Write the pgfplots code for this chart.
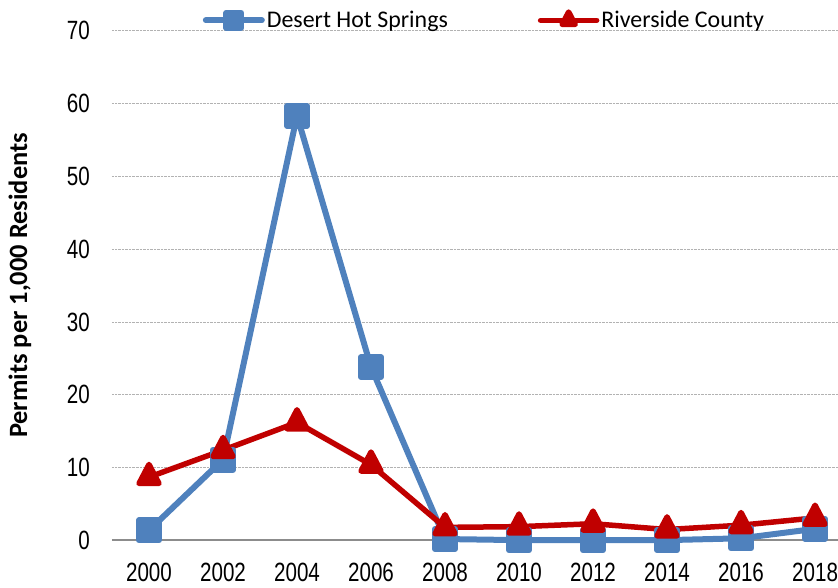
\documentclass[border=0pt]{standalone}
\usepackage{pgfplots}
\pgfplotsset{compat=1.18}
\usepackage{fontspec}
\setmainfont{Carlito}
\newfontfamily\tickfont{Liberation Sans}[FakeStretch=0.78]
\definecolor{dhs}{HTML}{4F81BD}
\definecolor{riv}{HTML}{C00000}
\begin{document}
\begin{tikzpicture}
\begin{axis}[
  name=ax, at={(0,0)}, anchor=south west,
  scale only axis, width=726bp, height=510bp,
  xmin=1999, xmax=2018.62, ymin=0, ymax=70,
  xtick={2000,2002,...,2018}, ytick={0,10,...,70},
  xticklabels={2000,2002,2004,2006,2008,2010,2012,2014,2016,2018},
  axis line style={draw=none},
  major tick length=0pt,
  ymajorgrids,
  grid style={densely dotted, color=gray!60, line width=0.75bp},
  extra y ticks={0}, extra y tick labels={},
  extra y tick style={grid style={solid, color=black!45, line width=2bp}},
  /pgf/number format/assume math mode=true,
  ticklabel style={font=\tickfont\fontsize{26.5}{26.5}\selectfont, inner sep=0pt},
  xticklabel style={anchor=north, yshift=-22bp},
  yticklabel style={anchor=east, xshift=-22bp},
  ylabel={Permits per 1,000 Residents},
  ylabel style={font=\bfseries\fontsize{26.5}{26.5}\selectfont, at={(axis description cs:-0.1267,0.5)}, anchor=center},
  clip=false,
  legend columns=2,
  legend cell align=left,
  legend style={at={(0.513,1.02)}, anchor=center, draw=none, fill=none,
    font=\fontsize{24}{24}\selectfont, inner sep=0pt,
    /tikz/every even column/.append style={column sep=88bp}},
  legend image code/.code={\draw[mark repeat=2,mark phase=2,#1,mark size=7.5bp] plot coordinates {(0bp,0bp) (28bp,0bp) (56bp,0bp)};},
]
\addplot[dhs, line width=6bp, line join=round, line cap=round, mark=square*, mark size=10bp,
  mark options={solid, draw=none, fill=dhs}] coordinates {
  (2000,1.4) (2002,11.1) (2004,58.3) (2006,23.8) (2008,0.2)
  (2010,0.05) (2012,0.05) (2014,0.05) (2016,0.3) (2018,1.6)};
\addlegendentry{Desert Hot Springs}
\addplot[riv, line width=5.5bp, line join=round, line cap=round, mark=triangle*, mark size=11.5bp,
  mark options={solid, draw=none, fill=riv, yscale=1.1}] coordinates {
  (2000,8.7) (2002,12.4) (2004,16.2) (2006,10.4) (2008,1.8)
  (2010,1.9) (2012,2.3) (2014,1.5) (2016,2.1) (2018,3.1)};
\addlegendentry{Riverside County}
\end{axis}
\pgfresetboundingbox
\path[use as bounding box] ([shift={(-112bp,-47.5bp)}]ax.south west) rectangle ([shift={(0bp,30.5bp)}]ax.north east);
\end{tikzpicture}
\end{document}
